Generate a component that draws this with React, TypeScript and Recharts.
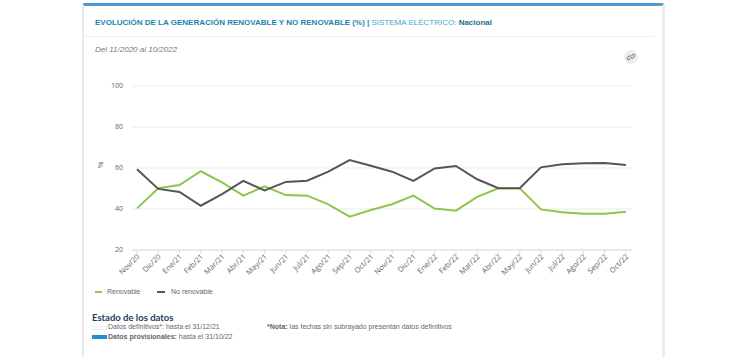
import React from "react";
import { LineChart, Line, XAxis, YAxis, CartesianGrid } from "recharts";

const months = [
  "Nov/20", "Dic/20", "Ene/21", "Feb/21", "Mar/21", "Abr/21", "May/21", "Jun/21",
  "Jul/21", "Ago/21", "Sep/21", "Oct/21", "Nov/21", "Dic/21", "Ene/22", "Feb/22",
  "Mar/22", "Abr/22", "May/22", "Jun/22", "Jul/22", "Ago/22", "Sep/22", "Oct/22",
];
const renovable = [
  40.3, 50.1, 51.7, 58.4, 53.0, 46.5, 51.1, 46.8, 46.5, 42.3, 36.3, 39.5,
  42.3, 46.5, 40.2, 39.2, 45.9, 50.1, 50.1, 39.8, 38.4, 37.7, 37.7, 38.7,
];
const noRenovable = [
  59.4, 49.8, 48.3, 41.6, 47.3, 53.7, 49.1, 53.2, 53.8, 58.2, 63.9, 61.1,
  58.2, 53.7, 59.8, 61.0, 54.5, 50.1, 50.1, 60.3, 61.8, 62.3, 62.4, 61.5,
];
const yTicks = [20, 40, 60, 80, 100];

const data = months.map((m, i) => ({ m, r: renovable[i], n: noRenovable[i] }));

const GREEN = "#8cc64a";
const DARK = "#555559";
const FONT = "'Liberation Sans', Arial, sans-serif";

const XTick = (props: any) => {
  const { x, y, payload } = props;
  return (
    <g transform={`translate(${x + 1},${y - 1})`}>
      <text
        x={0}
        y={0}
        dy={3}
        textAnchor="end"
        transform="rotate(-45)"
        fontSize={7.5}
        fill="#666"
        fontFamily="'Open Sans', sans-serif"
      >
        {payload.value}
      </text>
    </g>
  );
};

const abs = (left: number, top: number, extra: React.CSSProperties = {}): React.CSSProperties => ({
  position: "absolute",
  left,
  top,
  whiteSpace: "nowrap",
  ...extra,
});

export default function App() {
  return (
    <div
      style={{
        position: "fixed",
        left: 0,
        top: 0,
        width: 750,
        height: 357,
        background: "#fff",
        overflow: "hidden",
        fontFamily: FONT,
      }}
    >
      {/* card */}
      <div
        style={{
          position: "absolute",
          left: 82,
          top: 3,
          width: 583,
          height: 380,
          borderLeft: "2px solid #e9e9e9",
          borderRight: "3px solid #ececec",
          borderTop: "3px solid #4d9bd6",
          borderRadius: "3px 3px 0 0",
          boxSizing: "border-box",
        }}
      />
      {/* title */}
      <div style={abs(95, 18, { fontSize: 8, color: "#1b84ad", fontWeight: 700 })}>
        EVOLUCIÓN DE LA GENERACIÓN RENOVABLE Y NO RENOVABLE (%) |{" "}
        <span style={{ fontWeight: 400, color: "#45a6cf" }}>SISTEMA ELÉCTRICO: </span>
        <span style={{ color: "#1b6f96" }}>Nacional</span>
      </div>
      <div style={abs(84, 36, { width: 570, height: 1, background: "#f0f0f0" })} />
      <div style={abs(95, 45, { fontSize: 8, fontStyle: "italic", color: "#777" })}>
        Del 11/2020 al 10/2022
      </div>
      {/* link icon */}
      <svg style={abs(624, 50)} width={14} height={14} viewBox="0 0 14 14">
        <circle cx={7} cy={7} r={7} fill="#ececec" />
        <g fill="none" stroke="#8a8a8a" strokeWidth={1.1} strokeLinecap="round">
          <path d="M6.2 8.6 L5.3 9.5 A1.3 1.3 0 0 1 3.5 7.7 L4.9 6.3 A1.3 1.3 0 0 1 6.7 6.3" />
          <path d="M7.8 5.4 L8.7 4.5 A1.3 1.3 0 0 1 10.5 6.3 L9.1 7.7 A1.3 1.3 0 0 1 7.3 7.7" />
        </g>
      </svg>

      {/* chart */}
      <div style={{ position: "absolute", left: 0, top: 0 }}>
        <LineChart
          width={750}
          height={357}
          data={data}
          margin={{ top: 86, right: 118, bottom: 67, left: 92 }}
        >
          <CartesianGrid vertical={false} stroke="#ebebeb" strokeWidth={1} />
          <XAxis
            dataKey="m"
            interval={0}
            height={40}
            padding={{ left: 5, right: 6 }}
            tick={<XTick />}
            tickSize={4}
            stroke="#e0e0e0"
          />
          <YAxis
            width={40}
            domain={[20, 100]}
            ticks={yTicks}
            axisLine={false}
            tickLine={false}
            tickSize={6}
            tickMargin={3}
            tick={{ fontSize: 7, fill: "#666", fontFamily: "'Open Sans', sans-serif" }}
            label={{
              value: "%",
              angle: -90,
              position: "insideLeft",
              offset: 9,
              style: { fontSize: 7, fill: "#666" },
            }}
          />
          <Line
            dataKey="r"
            stroke={GREEN}
            strokeWidth={2}
            dot={false}
            isAnimationActive={false}
            type="linear"
          />
          <Line
            dataKey="n"
            stroke={DARK}
            strokeWidth={2}
            dot={false}
            isAnimationActive={false}
            type="linear"
          />
        </LineChart>
      </div>

      {/* legend */}
      <div style={abs(95, 291, { width: 7, height: 2, background: GREEN })} />
      <div style={abs(107, 288, { fontSize: 7, color: "#666" })}>Renovable</div>
      <div style={abs(157, 291, { width: 8, height: 2, background: DARK })} />
      <div style={abs(171, 288, { fontSize: 7, color: "#666" })}>No renovable</div>

      {/* estado de los datos */}
      <div
        style={abs(92, 313, {
          fontSize: 9.5,
          lineHeight: "10px",
          fontWeight: 700,
          color: "#1c3d60",
          fontFamily: "Lato, sans-serif",
        })}
      >
        Estado de los datos
      </div>
      <div style={abs(92, 326, { width: 13, height: 2, border: "1px solid #eeeeee", background: "#fff" })} />
      <div style={abs(108, 323, { fontSize: 7, lineHeight: "8px", color: "#666" })}>
        Datos definitivos*: hasta el 31/12/21
      </div>
      <div style={abs(92, 335, { width: 15, height: 4, background: "#1f8fd0" })} />
      <div style={abs(108, 333, { fontSize: 7, lineHeight: "8px", color: "#666" })}>
        <b>Datos provisionales:</b> hasta el 31/10/22
      </div>
      <div style={abs(267, 323, { fontSize: 7, lineHeight: "8px", color: "#666" })}>
        <b>*Nota:</b> las fechas sin subrayado presentan datos definitivos
      </div>
    </div>
  );
}
